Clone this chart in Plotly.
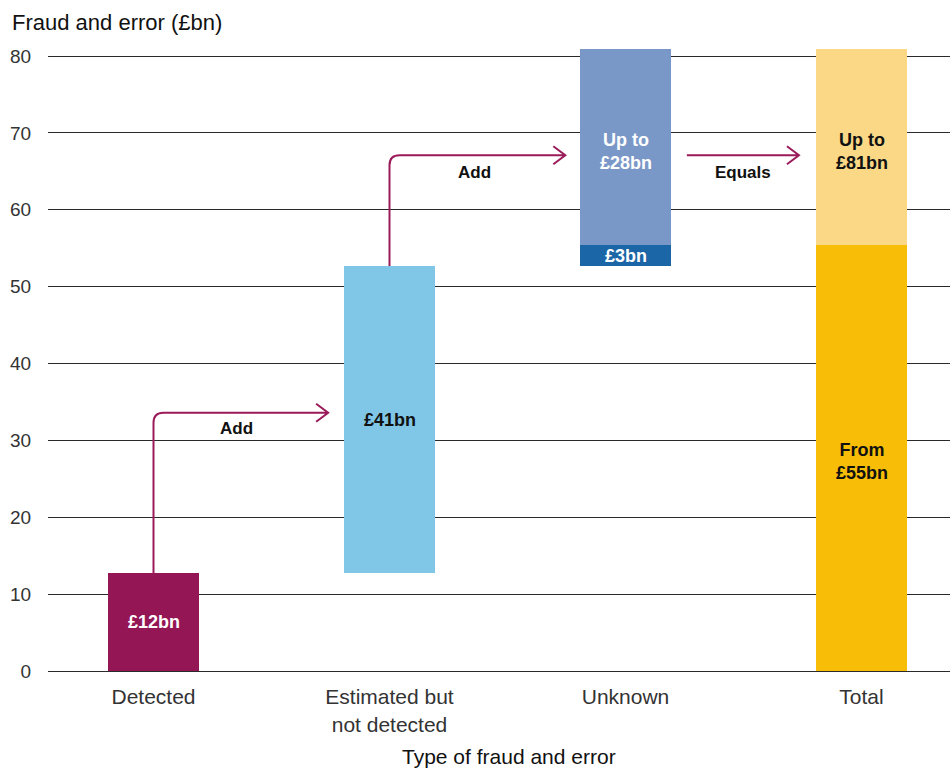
import plotly.graph_objects as go

# ---- data ----
categories = ["Detected", "Estimated but<br>not detected", "Unknown", "Total"]
detected = [12.7]
estimated = [40.0]
unknown_lower = [2.7]
unknown_upper = [25.5]
total_from = [55.4]
total_upper = [25.5]

bar_labels_detected = ["£12bn"]
bar_labels_estimated = ["£41bn"]
bar_labels_unknown_lower = ["£3bn"]
bar_labels_unknown_upper = ["Up to<br>£28bn"]
bar_labels_total_from = ["From<br>£55bn"]
bar_labels_total_upper = ["Up to<br>£81bn"]

arrow_labels = ["Add", "Add", "Equals"]
y_ticks = [0, 10, 20, 30, 40, 50, 60, 70, 80]

# ---- colours / styles ----
C_DET = "#951655"
C_EST = "#80C7E7"
C_UNK_LO = "#1B66A6"
C_UNK_HI = "#7A98C7"
C_TOT = "#F8BE07"
C_TOT_HI = "#FBD886"
C_ARROW = "#9A1A5A"
FONT = "Liberation Sans"
BW = 0.386

x_pos = list(range(len(categories)))
est_base = detected[0]
unk_lo_base = detected[0] + estimated[0]
unk_hi_base = unk_lo_base + unknown_lower[0]
tot_hi_base = total_from[0]

fig = go.Figure()

def add_bar(x, base, val, color):
    fig.add_trace(go.Bar(x=[x], y=val, base=[base], width=BW,
                         marker=dict(color=color, line=dict(width=0)),
                         showlegend=False, hoverinfo="skip"))

add_bar(x_pos[0], 0, detected, C_DET)
add_bar(x_pos[1], est_base, estimated, C_EST)
add_bar(x_pos[2], unk_lo_base, unknown_lower, C_UNK_LO)
add_bar(x_pos[2], unk_hi_base, unknown_upper, C_UNK_HI)
add_bar(x_pos[3], 0, total_from, C_TOT)
add_bar(x_pos[3], tot_hi_base, total_upper, C_TOT_HI)

# ---- bar value labels ----
def bar_label(x, y, text, color):
    fig.add_annotation(x=x, y=y, text=text, showarrow=False, xref="x", yref="y",
                       font=dict(family=FONT, size=18, color=color),
                       xanchor="center", yanchor="middle", align="center")

bar_label(x_pos[0], detected[0] / 2, "<b>%s</b>" % bar_labels_detected[0], "white")
bar_label(x_pos[1], est_base + estimated[0] / 2, "<b>%s</b>" % bar_labels_estimated[0], "#111111")
bar_label(x_pos[2], unk_lo_base + unknown_lower[0] / 2, "<b>%s</b>" % bar_labels_unknown_lower[0], "white")
bar_label(x_pos[2], unk_hi_base + unknown_upper[0] / 2 - 0.6, "<b>%s</b>" % bar_labels_unknown_upper[0], "white")
bar_label(x_pos[3], total_from[0] / 2 - 0.4, "<b>%s</b>" % bar_labels_total_from[0], "#111111")
bar_label(x_pos[3], tot_hi_base + total_upper[0] / 2 - 0.6, "<b>%s</b>" % bar_labels_total_upper[0], "#111111")

# ---- connector arrows ----
RX = 10 / 236.0     # corner radius in x units (~10px)
RY = 10 / 7.6875    # corner radius in y units
HX = 12 / 236.0     # arrowhead length
HY = 9 / 7.6875     # arrowhead half height

def elbow_arrow(x0, y0, y1, x1):
    path = (f"M {x0},{y0} L {x0},{y1 - RY} Q {x0},{y1} {x0 + RX},{y1} L {x1},{y1} "
            f"M {x1 - HX},{y1 + HY} L {x1},{y1} L {x1 - HX},{y1 - HY}")
    fig.add_shape(type="path", path=path, xref="x", yref="y",
                  line=dict(color=C_ARROW, width=2), layer="above")

def straight_arrow(x0, x1, y):
    path = (f"M {x0},{y} L {x1},{y} "
            f"M {x1 - HX},{y + HY} L {x1},{y} L {x1 - HX},{y - HY}")
    fig.add_shape(type="path", path=path, xref="x", yref="y",
                  line=dict(color=C_ARROW, width=2), layer="above")

elbow_arrow(x_pos[0], detected[0], 33.6, x_pos[1] - 0.26)
elbow_arrow(x_pos[1], est_base + estimated[0], 67.1, x_pos[2] - 0.255)
straight_arrow(x_pos[2] + 0.26, x_pos[3] - 0.265, 67.1)

arrow_label_pos = [(0.35, 31.6), (1.362, 64.8), (2.498, 64.9)]
for (ax, ay), t in zip(arrow_label_pos, arrow_labels):
    fig.add_annotation(x=ax, y=ay, text="<b>%s</b>" % t, showarrow=False,
                       xref="x", yref="y", xanchor="center", yanchor="middle",
                       font=dict(family=FONT, size=17, color="#111111"))

# ---- titles ----
fig.add_annotation(x=-38 / 902.0, y=1.0, xref="paper", yref="paper",
                   xanchor="left", yanchor="bottom", yshift=11,
                   text="Fraud and error (£bn)", showarrow=False,
                   font=dict(family=FONT, size=22, color="#111111"))
fig.add_annotation(x=(509 - 48) / 902.0, y=(671 - 756) / 623.0, xref="paper", yref="paper",
                   xanchor="center", yanchor="middle",
                   text="Type of fraud and error", showarrow=False,
                   font=dict(family=FONT, size=21, color="#111111"))

fig.update_layout(
    width=950, height=769,
    margin=dict(l=48, r=0, t=48, b=98),
    plot_bgcolor="white", paper_bgcolor="white",
    barmode="overlay", bargap=0,
    font=dict(family=FONT, color="#333333"),
    xaxis=dict(range=[-105.5 / 236.0, (950 - 153.5) / 236.0],
               tickmode="array", tickvals=x_pos, ticktext=categories,
               tickfont=dict(family=FONT, size=21, color="#333333"),
               showgrid=False, zeroline=False, showline=False,
               ticks="outside", ticklen=7, tickcolor="rgba(0,0,0,0)"),
    yaxis=dict(range=[0, 81.05], tickmode="array", tickvals=y_ticks,
               tickfont=dict(family=FONT, size=19, color="#333333"),
               showgrid=True, gridcolor="#2a2a2a", gridwidth=1,
               zeroline=True, zerolinecolor="#2a2a2a", zerolinewidth=1,
               showline=False, ticks="outside", ticklen=12,
               tickcolor="rgba(0,0,0,0)"),
)

fig.write_html("out.html")
